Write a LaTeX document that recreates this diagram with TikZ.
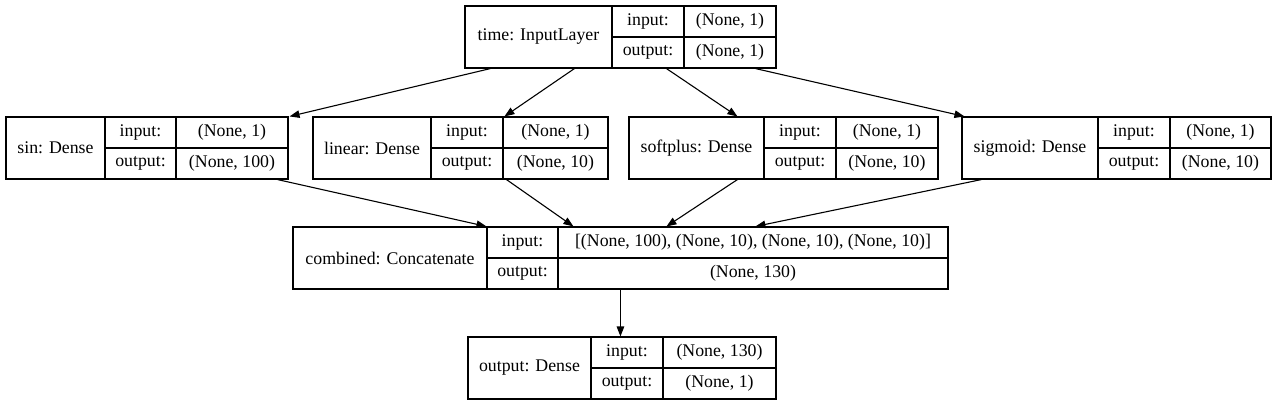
\documentclass[tikz,border=0pt]{standalone}
\usepackage{fontspec}
\setmainfont{Liberation Serif}
\usetikzlibrary{calc,fit,arrows.meta}
\newcommand\rec[9]{%
  \path (#2,#6) coordinate (#1-nw) (#5,{#6+62}) coordinate (#1-se);
  \node[recbox, fit=(#1-nw)(#1-se)] (#1) {};
  \draw[recline] (#3,#6) -- (#3,{#6+62});
  \draw[recline] (#4,#6) -- (#4,{#6+62});
  \draw[recline] (#3,{#6+31}) -- (#5,{#6+31});
  \node[txt] (#1-l) at ({(#2+#3)/2},{#6+31}) {#7};
  \node[txt] (#1-ik) at ({(#3+#4)/2},{#6+15.5}) {input:};
  \node[txt] (#1-ok) at ({(#3+#4)/2},{#6+46.5}) {output:};
  \node[txt] (#1-iv) at ({(#4+#5)/2},{#6+15.5}) {#8};
  \node[txt] (#1-ov) at ({(#4+#5)/2},{#6+46.5}) {#9};
}
\begin{document}
\begin{tikzpicture}[x=1pt,y=-1pt,
  recbox/.style={draw, line width=1.1pt, inner sep=0pt},
  recline/.style={line width=1.1pt},
  txt/.style={font=\fontsize{17.8}{20}\selectfont, inner sep=0pt},
  arr/.style={line width=1.1pt, -{Triangle[length=10pt,width=7.5pt]}}]
\useasboundingbox (0,0) rectangle (1278,405);
\rec{time}{465}{612}{684}{776}{6}{time: InputLayer}{(None, 1)}{(None, 1)}
\rec{sin}{6}{105}{176}{288}{117}{sin: Dense}{(None, 1)}{(None, 100)}
\rec{linear}{313}{431}{503}{608}{117}{linear: Dense}{(None, 1)}{(None, 10)}
\rec{softplus}{629}{764}{836}{938}{117}{softplus: Dense}{(None, 1)}{(None, 10)}
\rec{sigmoid}{962}{1098}{1170}{1271}{117}{sigmoid: Dense}{(None, 1)}{(None, 10)}
\rec{combined}{293}{487}{558}{948}{227}{combined: Concatenate}{[(None, 100), (None, 10), (None, 10), (None, 10)]}{(None, 130)}
\rec{output}{468}{591}{663}{776}{337}{output: Dense}{(None, 130)}{(None, 1)}
% edges from time
\draw[arr] ($(time.south west)+(26,0)$) -- ($(sin.north east)+(1,0)$);
\draw[arr] ($(time.south west)+(110,0)$) -- ($(linear.north west)+(192,0)$);
\draw[arr] ($(time.south west)+(202,0)$) -- ($(softplus.north west)+(109,0)$);
\draw[arr] ($(time.south west)+(291,0)$) -- ($(sigmoid.north west)+(3,0)$);
% edges to combined
\draw[arr] ($(sin.south west)+(272,0)$) -- ($(combined.north west)+(194,0)$);
\draw[arr] ($(linear.south west)+(194,0)$) -- ($(combined.north west)+(281,0)$);
\draw[arr] ($(softplus.south west)+(109,0)$) -- ($(combined.north west)+(374,0)$);
\draw[arr] ($(sigmoid.south west)+(20,0)$) -- ($(combined.north west)+(463,0)$);
\draw[arr] ($(combined.south west)+(328,0)$) -- ($(output.north west)+(153,0)$);
\end{tikzpicture}
\end{document}
